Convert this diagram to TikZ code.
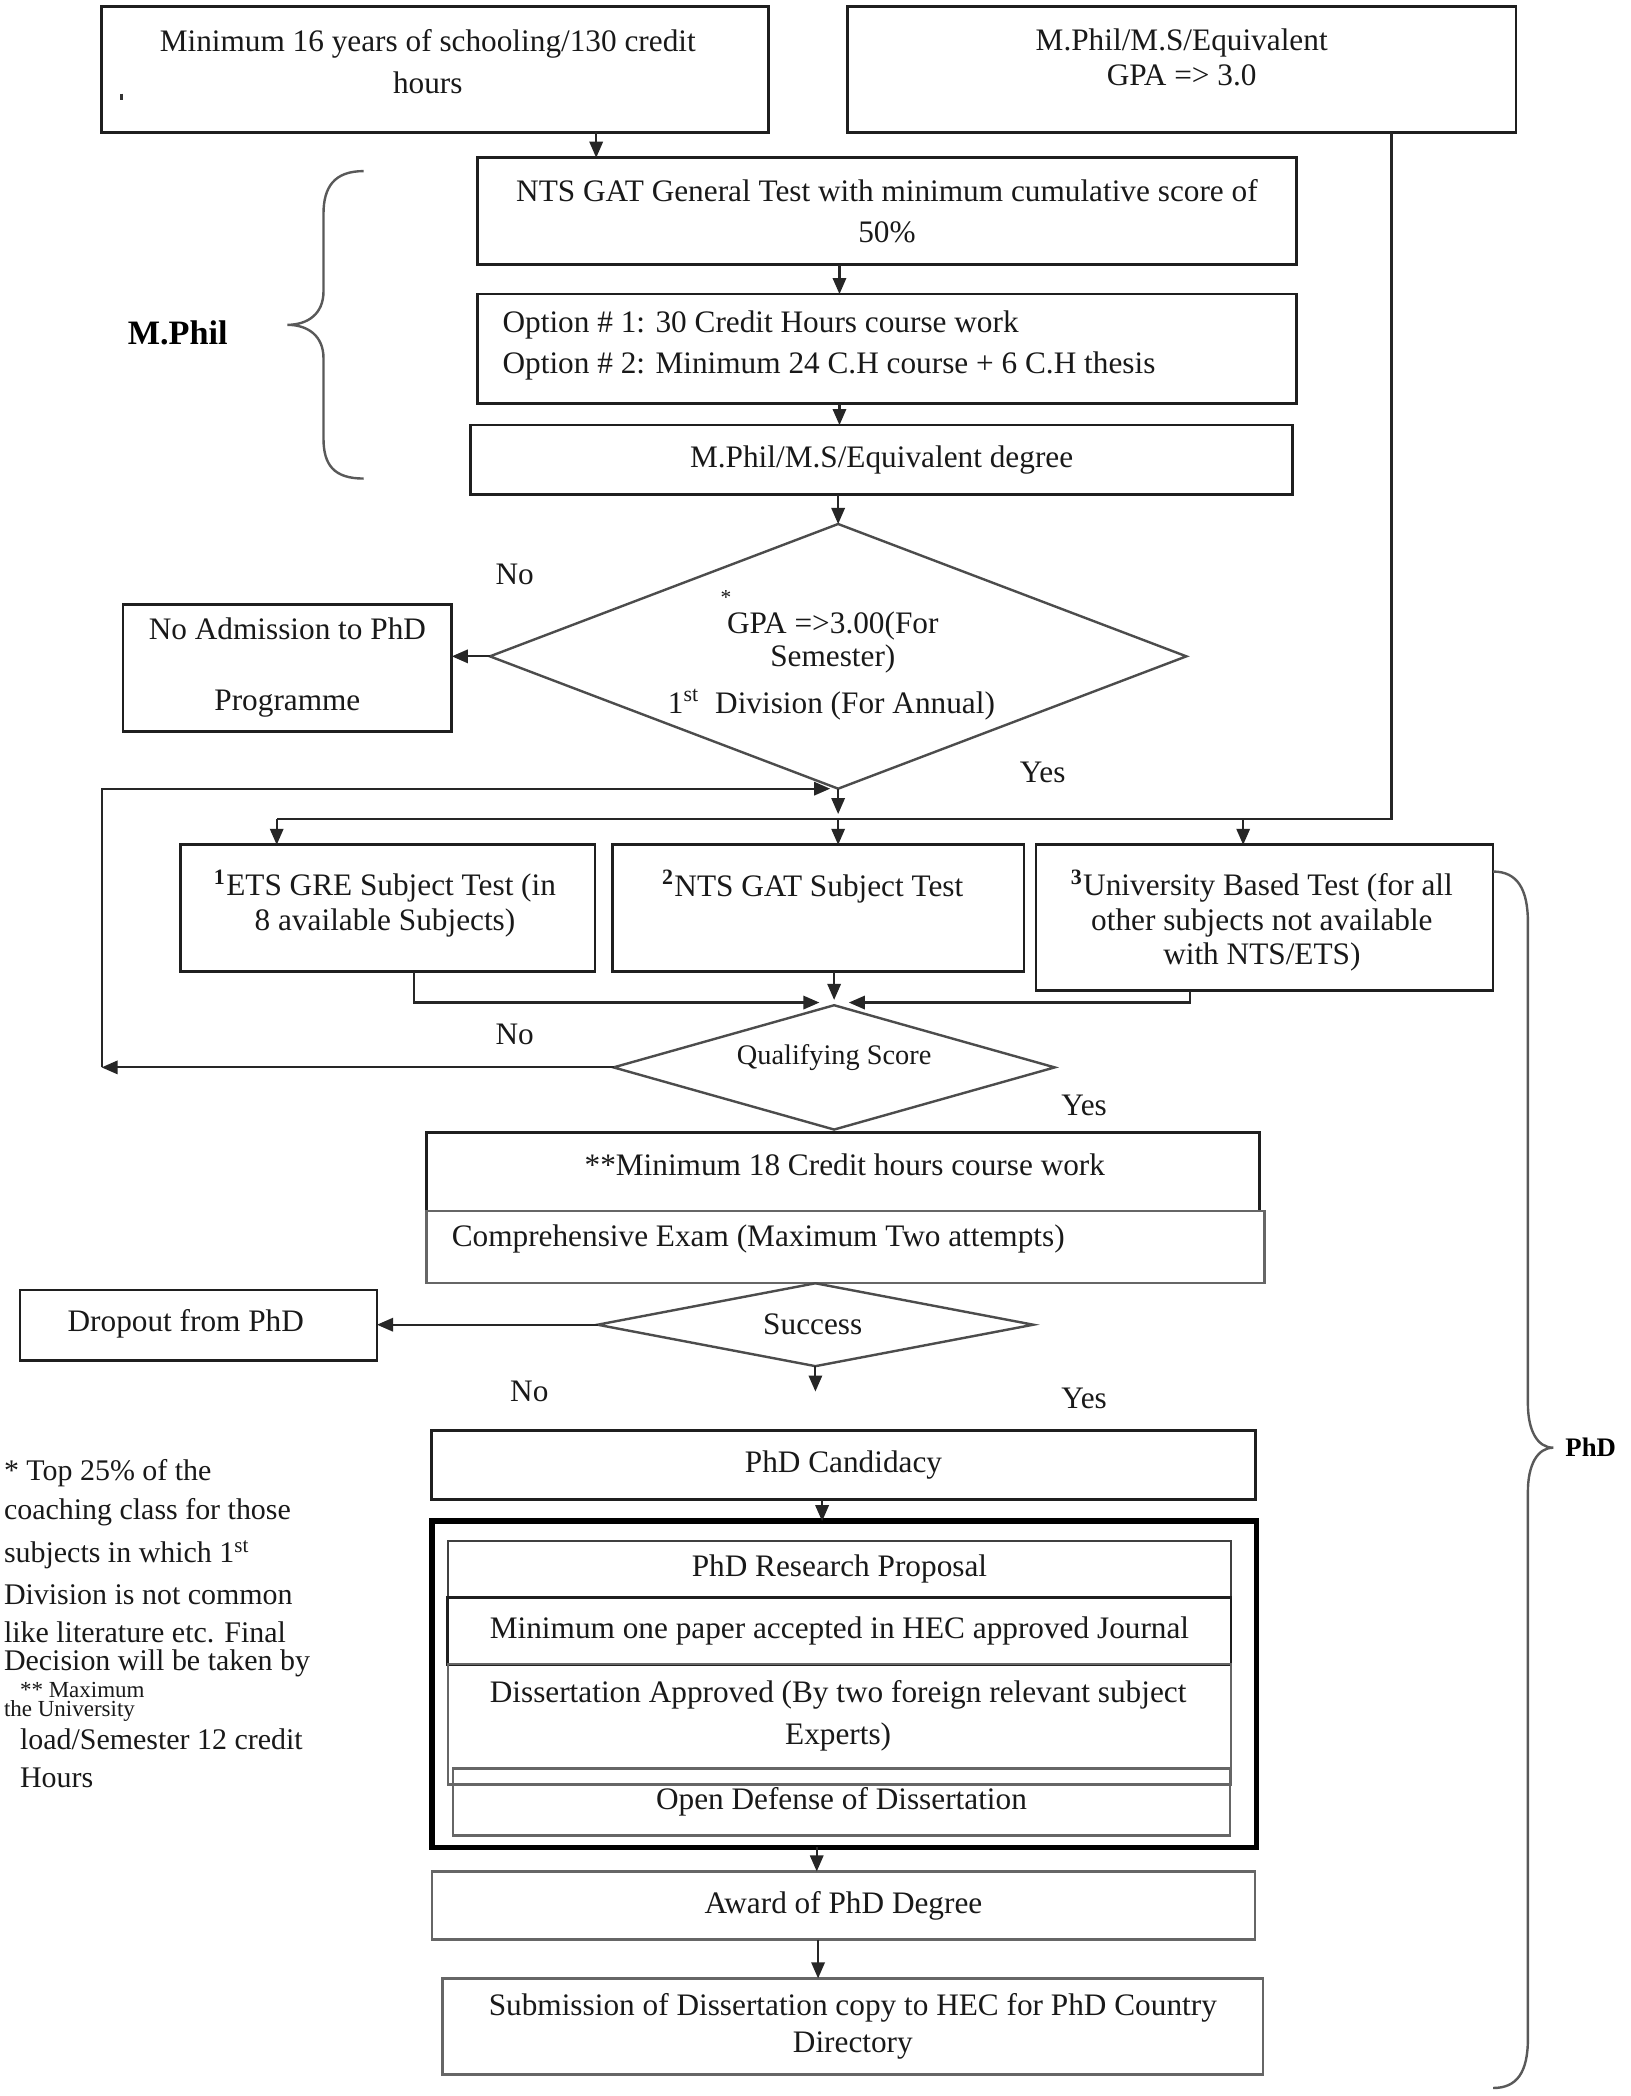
\documentclass[tikz,border=0pt]{standalone}
\usepackage{fontspec}
\setmainfont{Liberation Serif}
\usetikzlibrary{shapes.geometric,arrows.meta,calc}
\begin{document}
\begin{tikzpicture}[x=0.5pt,y=-0.5pt,
 every node/.style={inner sep=0pt, outer sep=0pt},
 txt/.style={font=\fontsize{11.7}{15.5}\selectfont, align=center, text=black!90},
 box/.style={draw=black!88, line width=1pt, txt},
 lbox/.style={draw=black!60, line width=0.9pt, txt},
 dia/.style={diamond, draw=black!70, line width=0.9pt},
 arr/.style={draw=black!85, line width=0.8pt, -{Triangle[length=6pt,width=5pt]}},
 ln/.style={draw=black!85, line width=0.8pt},
 bracel/.style={draw=black!65, line width=0.9pt},
 lab/.style={font=\fontsize{11.7}{14}\selectfont, text=black!90},
 note/.style={font=\fontsize{11.2}{14}\selectfont, anchor=west, text=black!90},
 smallnote/.style={font=\fontsize{8.6}{10}\selectfont, anchor=west, text=black!90},
]
\fill[white] (0,0) rectangle (1220,1568);
\useasboundingbox (0,0) rectangle (1220,1568);

% helper x positions
\coordinate (x446) at (446,0);
\coordinate (x628) at (628,0);
\coordinate (x310) at (310,0);
\coordinate (x890) at (890,0);
\coordinate (x930) at (930,0);
\coordinate (x615) at (615,0);
\coordinate (x611) at (611,0);
\coordinate (x612) at (612,0);

% ---------- top boxes ----------
\node[box, minimum width=249.5pt, minimum height=47pt] (b1) at (325.5,52) {};
\node[txt] (b1t) at (320,46) {Minimum 16 years of schooling/130 credit\\hours};
\draw[line width=1.3pt, black!80] (91,70) -- (91,75);

\node[box, minimum width=250pt, minimum height=47pt] (b2) at (884,52) {};
\node[txt, font=\fontsize{11.7}{13}\selectfont] (b2t) at (884,43) {M.Phil/M.S/Equivalent\\GPA => 3.0};

\node[box, minimum width=306.5pt, minimum height=40pt] (nts) at (663.5,158) {NTS GAT General Test with minimum cumulative score of\\50\%};
\node[box, minimum width=306.5pt, minimum height=41pt] (opt) at (663.5,261) {};
\node[txt, align=left, anchor=west] (optt) at (376,258.5) {Option \# 1: 30 Credit Hours course work\\Option \# 2: Minimum 24 C.H course + 6 C.H thesis};
\node[box, minimum width=307.5pt, minimum height=26pt] (deg) at (659.5,344) {M.Phil/M.S/Equivalent degree};

% ---------- GPA diamond ----------
\node[dia, minimum width=260.5pt, minimum height=99pt] (gpa) at (627,491) {};
\node[txt, font=\fontsize{8}{8}\selectfont] (star) at (543,447) {*};
\node[txt, font=\fontsize{11.7}{12.5}\selectfont] (gpat) at (623,480.5) {GPA =>3.00(For\\Semester)};
\node[txt] (gpat2) at (622,527) {1\textsuperscript{st}\ \ Division (For Annual)};

\node[box, minimum width=123pt, minimum height=47.5pt] (noadm) at (215,499.5) {No Admission to PhD\\[11pt]Programme};

% ---------- test boxes ----------
\node[box, minimum width=155pt, minimum height=47.5pt] (ets) at (290,679.5) {};
\node[txt, font=\fontsize{11.7}{13}\selectfont] (etst) at (288,676) {\textsuperscript{\textbf{1}}ETS GRE Subject Test (in\\8 available Subjects)};
\node[box, minimum width=154pt, minimum height=47.5pt] (ntss) at (612,679.5) {};
\node[txt] (ntsst) at (608,663) {\textsuperscript{\textbf{2}}NTS GAT Subject Test};
\node[box, minimum width=171pt, minimum height=54.5pt] (univ) at (946,686.5) {};
\node[txt, font=\fontsize{11.7}{12.8}\selectfont] (univt) at (944,688.5) {\textsuperscript{\textbf{3}}University Based Test (for all\\other subjects not available\\with NTS/ETS)};

% ---------- qualifying ----------
\node[dia, minimum width=165pt, minimum height=46.5pt] (qual) at (624,798.5) {};
\node[txt, font=\fontsize{10.6}{12}\selectfont] (qualt) at (624,791) {Qualifying Score};

\node[box, minimum width=311.5pt, minimum height=29.5pt] (course) at (630.5,876.5) {};
\node[txt] (courset) at (632,871) {**Minimum 18 Credit hours course work};
\node[lbox, minimum width=313.5pt, minimum height=27pt] (comp) at (632.5,933) {};
\node[txt, anchor=west] (compt) at (338,927) {Comprehensive Exam (Maximum Two attempts)};

% ---------- success ----------
\node[dia, minimum width=163pt, minimum height=31pt] (succ) at (610,991) {};
\node[txt] (succt) at (608,991) {Success};
\node[box, minimum width=133.5pt, minimum height=26.5pt] (drop) at (148.5,991.5) {};
\node[txt] (dropt) at (139,990) {Dropout from PhD};

% ---------- PhD part ----------
\node[box, minimum width=308pt, minimum height=26pt] (cand) at (631,1096) {PhD Candidacy};
\node[draw=black, line width=2.1pt, minimum width=308.5pt, minimum height=122pt] (outer) at (631.5,1260) {};
\node[lbox, draw=black!75, minimum width=293pt, minimum height=21pt] (prop) at (628,1174) {PhD Research Proposal};
\node[box, minimum width=293pt, minimum height=25pt] (paper) at (628,1220) {Minimum one paper accepted in HEC approved Journal};
\node[lbox, minimum width=293pt, minimum height=45pt] (diss) at (628,1290) {};
\node[txt] (disst) at (627,1283.5) {Dissertation Approved (By two foreign relevant subject\\Experts)};
\node[lbox, minimum width=290.5pt, minimum height=25pt] (open) at (629.5,1348) {Open Defense of Dissertation};
\node[lbox, minimum width=308pt, minimum height=25.5pt] (award) at (631,1425.5) {Award of PhD Degree};
\node[lbox, font=\fontsize{11.7}{14}\selectfont, minimum width=307pt, minimum height=36pt] (sub) at (638,1516) {Submission of Dissertation copy to HEC for PhD Country\\Directory};

% ---------- labels ----------
\node[lab] (no1) at (385,430) {No};
\node[lab] (yes1) at (780,578) {Yes};
\node[lab] (no2) at (385,774) {No};
\node[lab] (yes2) at (811,827) {Yes};
\node[lab] (no3) at (396,1041) {No};
\node[lab] (yes3) at (811,1046) {Yes};

% ---------- braces ----------
\draw[bracel] (272,128) .. controls (250,128) and (242,140) .. (242,160) -- (242,218) .. controls (242,235) and (230,243) .. (215,243) .. controls (230,243) and (242,251) .. (242,268) -- (242,328) .. controls (242,348) and (250,358) .. (272,358);
\node[font=\fontsize{12.8}{14}\selectfont\bfseries] (mphil) at (133,249) {M.Phil};

\draw[bracel] (1117,652) .. controls (1135,652) and (1143,665) .. (1143,690) -- (1143,1050) .. controls (1143,1070) and (1150,1083) .. (1162,1083) .. controls (1150,1083) and (1143,1096) .. (1143,1116) -- (1143,1525) .. controls (1143,1550) and (1135,1562) .. (1117,1562);
\node[font=\fontsize{10}{12}\selectfont\bfseries] (phd) at (1190,1083) {PhD};

% ---------- footnotes ----------
\node[note] (f1) at (3,1102) {* Top 25\% of the};
\node[note] (f2) at (3,1131) {coaching class for those};
\node[note] (f3) at (3,1163) {subjects in which 1\textsuperscript{st}};
\node[note] (f4) at (3,1193) {Division is not common};
\node[note] (f5) at (3,1221) {like literature etc. Final};
\node[note] (f6) at (3,1244) {Decision will be taken by};
\node[smallnote] (f7) at (15,1264) {** Maximum};
\node[smallnote] (f8) at (3,1280) {the University};
\node[note] (f9) at (15,1301) {load/Semester 12 credit};
\node[note] (f10) at (15,1330) {Hours};

% ---------- connectors ----------
\coordinate (dR) at (1041,613);
\coordinate (dL) at (207,613);
\coordinate (lpL) at (76,798.5);
\coordinate (qinL) at (613,750);
\coordinate (qinR) at (635,750);

\draw[arr] (x446 |- b1.south) -- (x446 |- nts.north);
\draw[arr] (x628 |- nts.south) -- (x628 |- opt.north);
\draw[arr] (x628 |- opt.south) -- (x628 |- deg.north);
\draw[arr] (gpa.north |- deg.south) -- (gpa.north);
\draw[arr] (gpa.west) -- (noadm.east |- gpa.west);
\draw[arr] (gpa.south) -- ++(0,19);

\draw[ln] (dR |- b2.south) -- (dR) -- (dL);
\draw[arr] (dL) -- (dL |- ets.north);
\draw[arr] (gpa.south |- dL) -- (gpa.south |- ntss.north);
\draw[arr] (x930 |- dL) -- (x930 |- univ.north);

\draw[arr] (qual.west) -- (lpL);
\draw[arr] (lpL) -- (lpL |- gpa.south) -- ([xshift=-3pt]gpa.south);

\draw[arr] (x310 |- ets.south) -- (x310 |- qinL) -- (qinL);
\draw[arr] (qual.north |- ntss.south) -- ([yshift=2pt]qual.north);
\draw[arr] (x890 |- univ.south) -- (x890 |- qinR) -- (qinR);

\draw[arr] (succ.west) -- (drop.east |- succ.west);
\draw[arr] (succ.south) -- ++(0,19);
\draw[arr] (x615 |- cand.south) -- (x615 |- outer.north);
\draw[arr] (x611 |- outer.south) -- (x611 |- award.north);
\draw[arr] (x612 |- award.south) -- (x612 |- sub.north);
\end{tikzpicture}
\end{document}
